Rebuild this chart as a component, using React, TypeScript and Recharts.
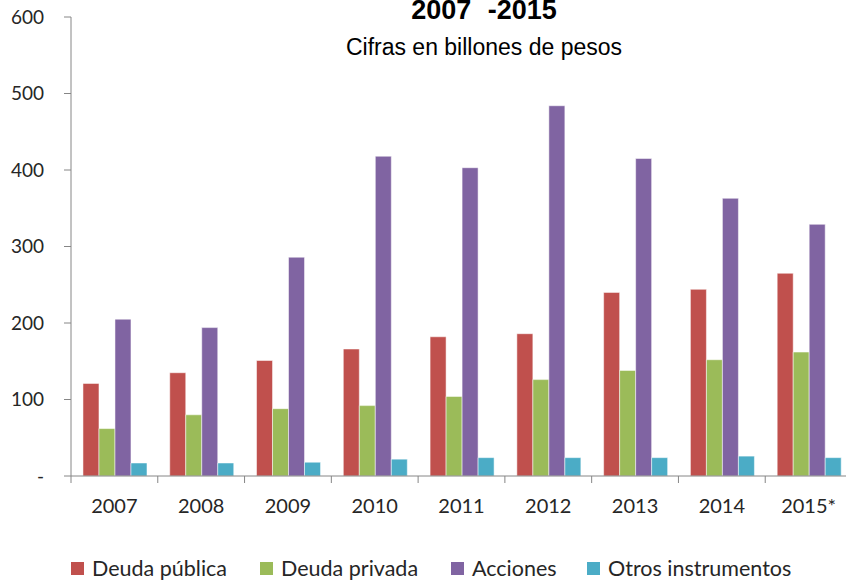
import { BarChart, Bar, XAxis, YAxis, Legend } from "recharts";

const years = ["2007", "2008", "2009", "2010", "2011", "2012", "2013", "2014", "2015*"];
const deudaPublica = [121, 135, 151, 166, 182, 186, 240, 244, 265];
const deudaPrivada = [62, 80, 88, 92, 104, 126, 138, 152, 162];
const acciones = [205, 194, 286, 418, 403, 484, 415, 363, 329];
const otros = [17, 17, 18, 22, 24, 24, 24, 26, 24];
const yTicks = [0, 100, 200, 300, 400, 500, 600];

const series = [
  { key: "publica", name: "Deuda pública", color: "#C0504D", values: deudaPublica },
  { key: "privada", name: "Deuda privada", color: "#9BBB59", values: deudaPrivada },
  { key: "acciones", name: "Acciones", color: "#8064A2", values: acciones },
  { key: "otros", name: "Otros instrumentos", color: "#4BACC6", values: otros },
];

const data = years.map((year, i) => {
  const row: Record<string, string | number> = { year };
  series.forEach((s) => (row[s.key] = s.values[i]));
  return row;
});

const AXIS = "#868686";
const TEXT = "#262626";
const FONT = "Lato, 'Open Sans', sans-serif";
// width of each legend slot, so the entries line up like the original
const legendSlots = [189, 191, 136, 220];

function YearTick(props: any) {
  const { x, y, payload } = props;
  const half = payload.offset ?? 43.4;
  return (
    <g>
      <line x1={x - half} x2={x - half} y1={y - 23} y2={y - 16} stroke={AXIS} />
      <text x={x} y={y} dy="0.71em" textAnchor="middle" fill={TEXT} fontSize={20} fontFamily={FONT}>
        {payload.value}
      </text>
    </g>
  );
}

function LegendBox() {
  return (
    <div
      style={{
        height: 45,
        display: "flex",
        alignItems: "flex-start",
        paddingLeft: 71,
        paddingTop: 21,
        boxSizing: "border-box",
        fontFamily: FONT,
        fontSize: 21.5,
        lineHeight: "22px",
        color: TEXT,
      }}
    >
      {series.map((s, i) => (
        <div key={s.key} style={{ display: "flex", alignItems: "center", width: legendSlots[i], flex: "none" }}>
          <span style={{ width: 13, height: 13, background: s.color, marginRight: 8, display: "inline-block" }} />
          <span style={{ whiteSpace: "nowrap" }}>{s.name}</span>
        </div>
      ))}
    </div>
  );
}

export default function App() {
  return (
    <div
      style={{
        position: "absolute",
        left: 0,
        top: 0,
        width: 846,
        height: 581,
        overflow: "hidden",
        background: "#fff",
      }}
    >
      <BarChart
        width={860}
        height={581}
        data={data}
        margin={{ top: 17, right: 8, left: 0, bottom: 0 }}
        barCategoryGap="13.8%"
        barGap={0}
      >
        <XAxis
          dataKey="year"
          height={60}
          axisLine={{ stroke: AXIS }}
          tickLine={false}
          tickSize={7}
          tickMargin={16}
          tick={<YearTick />}
          interval={0}
        />
        <YAxis
          width={71}
          domain={[0, 600]}
          ticks={yTicks}
          axisLine={{ stroke: AXIS }}
          tickLine={{ stroke: AXIS }}
          tickSize={7}
          tickMargin={20}
          tickFormatter={(v: number) => (v === 0 ? "-" : String(v))}
          tick={{ fill: TEXT, fontSize: 19, fontFamily: FONT }}
        />
        <Legend verticalAlign="bottom" height={45} content={() => <LegendBox />} />
        {series.map((s) => (
          <Bar
            key={s.key}
            dataKey={s.key}
            name={s.name}
            fill={s.color}
            stroke="#ffffff"
            strokeOpacity={0.5}
            strokeWidth={1}
            isAnimationActive={false}
          />
        ))}
      </BarChart>
      <svg width={846} height={70} style={{ position: "absolute", left: 0, top: 0, pointerEvents: "none" }}>
        <text
          x={484}
          y={18.5}
          textAnchor="middle"
          fontFamily="'Liberation Sans', Arial, sans-serif"
          fontWeight="bold"
          fontSize={27}
          fill="#000"
        >
          <tspan>2007</tspan>
          <tspan dx={9}> -2015</tspan>
        </text>
        <text
          x={484}
          y={55}
          textAnchor="middle"
          fontFamily="'Liberation Sans', Arial, sans-serif"
          fontSize={23}
          fill="#000"
        >
          Cifras en billones  de pesos
        </text>
      </svg>
    </div>
  );
}
